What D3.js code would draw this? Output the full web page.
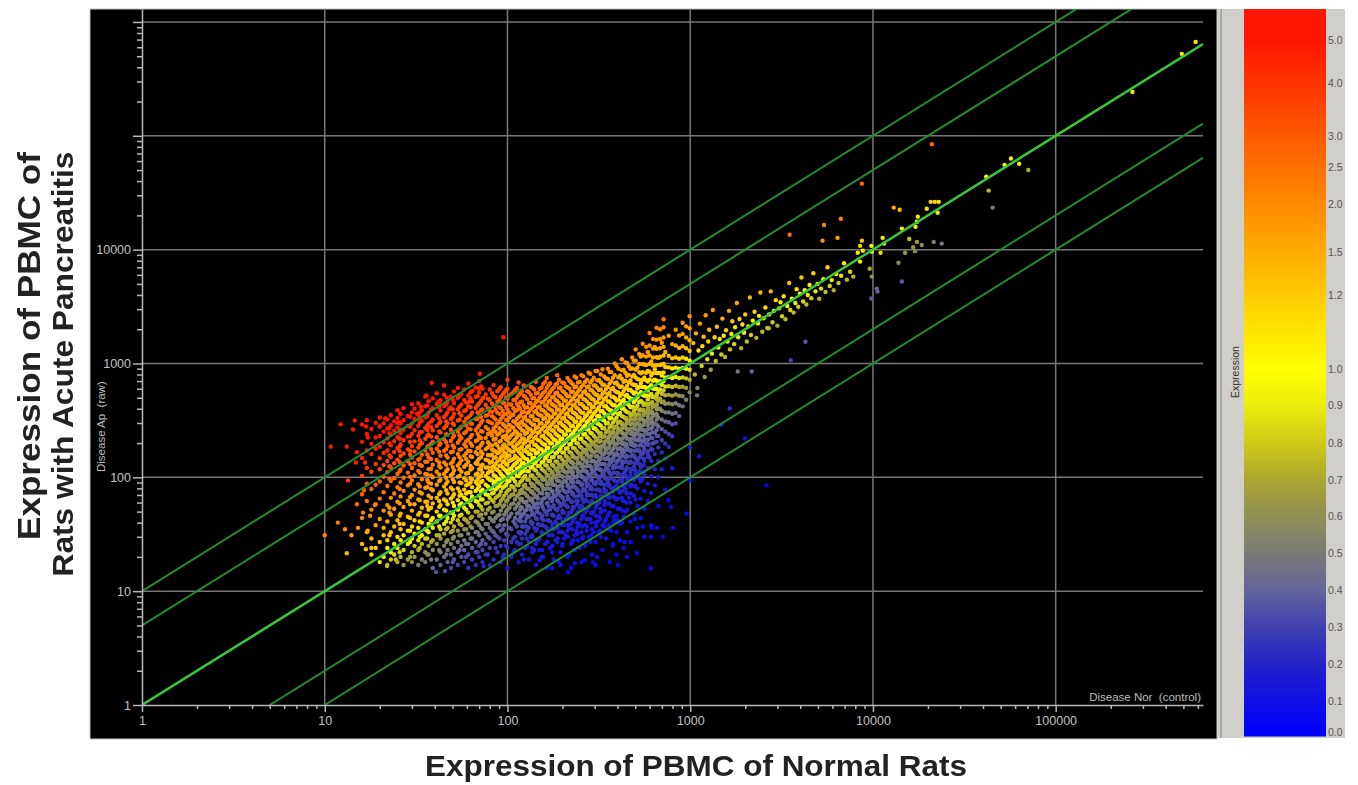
<!DOCTYPE html>
<html>
<head>
<meta charset="utf-8">
<title>Expression of PBMC</title>
<script src="https://cdnjs.cloudflare.com/ajax/libs/d3/7.8.5/d3.min.js"></script>
<style>
  html, body { margin: 0; padding: 0; background: #fff; }
  svg { display: block; filter: blur(0.7px); }
  text { font-family: "Liberation Sans", Arial, sans-serif; }
</style>
</head>
<body>
<svg id="container" width="1358" height="785"></svg>
<script>
const xLabels = [1, 10, 100, 1000, 10000, 100000]
const yLabels = [1, 10, 100, 1000, 10000]
const xGrid = [10, 100, 1000, 10000, 100000]
const yGrid = [10, 100, 1000, 10000, 100000, 1000000]
const foldLines = [10, 5, 1, 0.2, 0.1]

const legendTicks = [0, 0.1, 0.2, 0.3, 0.4, 0.5, 0.6, 0.7, 0.8, 0.9, 1, 1.2, 1.5, 2, 2.5, 3, 4, 5]
const legendColors = ['#0000ff', '#1010e6', '#2222c8', '#4040b0', '#64649c', '#7a7a76', '#8f8f55', '#aaa530', '#d0c818', '#ecec0c', '#ffff00', '#ffcb00', '#ffac00', '#ff8a00', '#ff7000', '#ff5a00', '#ff3400', '#ff1600']

// main cloud, read column by column: one normal-rat value, many disease values
const cloudX = [16, 17, 18, 19, 20, 21, 22, 23, 24, 25, 26, 27, 28.5, 30, 31, 32.5, 34, 35.5, 37, 39, 41, 43, 45, 47, 49, 51, 53.5, 56, 58, 61, 64, 67, 70, 73, 76, 80, 84, 88, 92, 96, 100, 105, 110, 115, 120, 125, 131, 137, 143, 150, 157, 164, 171, 179, 187, 195, 204, 213, 223, 233, 243, 254, 266, 278, 290, 303, 317, 331, 346, 362, 378, 395, 413, 432, 451, 471, 492, 514, 537, 561, 586, 612, 640, 669, 699, 730, 763, 797, 833, 870, 909, 950, 993]
const cloudY = [
  [26, 44, 71, 103, 148, 205, 292],
  [33, 62, 88, 121, 172, 240, 318],
  [21, 29, 52, 79, 112, 160, 196, 266],
  [24, 38, 58, 86, 131, 178, 224, 301],
  [18, 27, 43, 65, 92, 118, 147, 186, 231, 279, 335],
  [20, 31, 36, 51, 74, 101, 128, 164, 203, 252, 298],
  [17, 24, 28, 41, 57, 84, 111, 139, 172, 219, 268, 322],
  [19, 22, 33, 47, 66, 93, 122, 151, 191, 238, 287, 351],
  [21, 26, 37, 53, 72, 98, 133, 167, 208, 256, 310],
  [18, 24, 30, 42, 61, 82, 107, 143, 181, 226, 274, 332, 389],
  [20, 28, 35, 48, 68, 90, 117, 154, 194, 245, 299, 362],
  [17, 23, 31, 39, 55, 76, 99, 127, 162, 213, 262, 318, 405],
  [19, 26, 34, 45, 62, 85, 110, 138, 176, 228, 283, 346],
  [18, 22, 29, 37, 51, 70, 94, 121, 149, 188, 241, 297, 372, 438],
  [20, 25, 32, 42, 58, 78, 104, 133, 169, 207, 259, 325, 401],
  [17, 23, 28, 36, 47, 64, 87, 114, 143, 183, 232, 284, 354, 447],
  [19, 26, 31, 40, 54, 72, 96, 126, 158, 199, 251, 312, 388],
  [18, 22, 29, 35, 46, 61, 81, 107, 137, 172, 218, 271, 336, 421, 512],
  [21, 25, 33, 39, 52, 69, 90, 118, 150, 190, 238, 296, 369, 466],
  [16, 23, 28, 36, 44, 59, 77, 100, 129, 164, 206, 259, 321, 405, 494],
  [19, 26, 31, 41, 50, 66, 86, 112, 142, 178, 226, 283, 352, 441, 548],
  [17, 22, 29, 35, 46, 57, 74, 95, 122, 155, 197, 248, 308, 387, 476],
  [20, 25, 32, 39, 52, 64, 83, 107, 135, 171, 216, 271, 339, 423, 531, 640],
  [18, 23, 28, 36, 44, 58, 72, 92, 118, 149, 188, 237, 298, 372, 462],
  [16, 21, 26, 33, 40, 49, 65, 81, 104, 132, 166, 209, 262, 326, 410, 512],
  [19, 24, 30, 37, 46, 56, 71, 91, 115, 146, 183, 231, 289, 361, 449, 566],
  [17, 22, 27, 34, 42, 52, 63, 80, 101, 127, 160, 201, 252, 316, 397, 497, 610],
  [20, 25, 31, 38, 47, 59, 70, 89, 112, 141, 177, 222, 279, 348, 437, 541],
  [18, 23, 28, 35, 43, 54, 66, 78, 98, 124, 155, 194, 244, 306, 383, 478, 590],
  [16, 21, 26, 32, 40, 49, 61, 74, 87, 109, 137, 171, 214, 268, 336, 421, 525, 668],
  [19, 24, 29, 36, 45, 55, 68, 82, 96, 120, 151, 189, 236, 295, 370, 463, 572],
  [17, 22, 27, 33, 41, 50, 62, 76, 91, 106, 133, 166, 208, 260, 325, 407, 509, 615],
  [20, 25, 31, 38, 46, 57, 69, 84, 100, 118, 146, 183, 229, 286, 358, 448, 556, 700],
  [18, 23, 28, 35, 43, 52, 64, 78, 93, 110, 129, 161, 201, 252, 315, 394, 492, 602],
  [21, 26, 32, 39, 48, 59, 71, 86, 103, 122, 143, 177, 222, 277, 347, 433, 535],
  [17, 24, 29, 36, 44, 54, 66, 79, 95, 113, 134, 156, 195, 244, 305, 382, 477, 590],
  [19, 27, 33, 41, 50, 61, 73, 88, 105, 125, 148, 172, 215, 269, 336, 420, 518, 646],
  [22, 30, 37, 46, 56, 68, 81, 97, 116, 138, 163, 190, 237, 296, 370, 462, 571],
  [18, 25, 34, 42, 51, 62, 75, 90, 107, 127, 150, 176, 209, 261, 326, 407, 508, 620],
  [21, 28, 38, 47, 57, 69, 83, 99, 118, 140, 165, 194, 230, 287, 359, 448, 560],
  [16, 24, 31, 43, 52, 63, 76, 91, 109, 129, 152, 179, 212, 253, 316, 394, 493, 598, 720],
  [20, 27, 35, 48, 58, 70, 84, 100, 120, 142, 168, 197, 234, 279, 348, 434, 541],
  [23, 30, 39, 44, 53, 64, 77, 92, 110, 131, 154, 182, 215, 256, 306, 383, 478, 585],
  [18, 26, 33, 42, 49, 59, 71, 85, 102, 121, 143, 169, 199, 236, 282, 337, 421, 526, 680],
  [21, 29, 37, 46, 54, 65, 78, 94, 112, 133, 157, 186, 219, 260, 310, 371, 463, 570],
  [24, 32, 41, 51, 60, 72, 86, 103, 123, 146, 173, 204, 241, 286, 341, 408, 509, 630],
  [19, 27, 36, 45, 56, 66, 79, 95, 113, 135, 160, 189, 223, 264, 315, 376, 449, 560],
  [22, 30, 40, 49, 61, 73, 87, 104, 124, 148, 175, 207, 245, 291, 346, 414, 494, 612],
  [17, 26, 34, 44, 54, 67, 80, 96, 115, 137, 162, 192, 227, 269, 320, 382, 456, 545, 690],
  [23, 29, 38, 48, 59, 73, 88, 105, 126, 150, 178, 211, 250, 296, 352, 420, 501, 600],
  [20, 32, 42, 53, 65, 79, 95, 115, 138, 164, 195, 232, 275, 326, 387, 462, 552, 660],
  [16, 27, 36, 47, 59, 72, 87, 106, 127, 152, 181, 215, 254, 302, 359, 428, 510, 610, 745],
  [24, 31, 41, 52, 65, 79, 96, 116, 139, 167, 199, 236, 280, 332, 395, 470, 561, 672],
  [19, 35, 46, 57, 70, 86, 104, 126, 151, 181, 216, 257, 305, 362, 430, 512, 612],
  [27, 39, 51, 63, 77, 94, 114, 137, 165, 197, 235, 279, 331, 393, 468, 558, 668, 790],
  [17, 22, 33, 44, 56, 69, 85, 103, 125, 150, 180, 215, 256, 304, 361, 430, 513, 615],
  [29, 38, 49, 62, 76, 93, 113, 137, 165, 198, 236, 281, 334, 396, 470, 560, 672],
  [20, 34, 43, 55, 68, 84, 102, 124, 150, 180, 216, 258, 307, 365, 433, 515, 615, 745],
  [16, 26, 39, 49, 61, 75, 92, 112, 136, 164, 197, 236, 281, 334, 397, 472, 563, 680],
  [23, 31, 44, 55, 68, 83, 101, 123, 149, 180, 216, 258, 308, 366, 435, 517, 618, 770],
  [28, 37, 50, 62, 76, 92, 112, 136, 165, 198, 237, 283, 337, 401, 476, 566, 680],
  [18, 33, 43, 56, 69, 85, 103, 125, 151, 182, 218, 261, 311, 370, 440, 523, 625, 790],
  [25, 38, 49, 63, 77, 94, 114, 138, 167, 200, 240, 286, 341, 405, 481, 572, 690],
  [30, 43, 55, 70, 86, 104, 126, 152, 183, 220, 263, 314, 373, 444, 528, 630, 830],
  [21, 35, 48, 62, 78, 95, 116, 140, 169, 203, 243, 290, 345, 410, 487, 580, 710],
  [17, 27, 40, 54, 70, 87, 106, 128, 155, 186, 223, 267, 318, 378, 449, 534, 640, 860],
  [33, 45, 60, 78, 97, 118, 142, 171, 205, 245, 292, 348, 414, 492, 585, 715],
  [23, 38, 51, 68, 87, 108, 131, 158, 189, 226, 270, 322, 383, 455, 541, 650, 890],
  [29, 43, 58, 76, 97, 120, 145, 174, 208, 249, 297, 354, 421, 500, 596, 740],
  [18, 35, 49, 66, 86, 108, 133, 161, 193, 231, 275, 328, 390, 463, 551, 665, 840],
  [26, 40, 56, 75, 97, 120, 147, 177, 212, 254, 303, 361, 429, 510, 610, 750],
  [21, 33, 46, 64, 85, 109, 134, 163, 196, 235, 280, 334, 397, 472, 562, 680, 950],
  [28, 39, 53, 73, 96, 122, 149, 180, 216, 258, 308, 367, 436, 519, 620, 780],
  [24, 45, 62, 84, 108, 136, 166, 200, 239, 285, 339, 403, 480, 572, 690, 880],
  [33, 52, 72, 96, 122, 151, 184, 221, 264, 314, 374, 445, 530, 635, 780, 1010],
  [27, 41, 60, 83, 109, 138, 170, 205, 245, 292, 347, 413, 492, 588, 710, 900],
  [48, 69, 95, 124, 155, 189, 227, 271, 322, 383, 456, 544, 650, 795, 1060],
  [36, 56, 80, 108, 140, 174, 211, 252, 300, 357, 425, 506, 605, 730, 920],
  [44, 65, 92, 123, 157, 193, 233, 278, 331, 394, 469, 559, 670, 820, 1150],
  [30, 53, 76, 106, 140, 177, 216, 259, 309, 368, 437, 520, 622, 755, 980],
  [62, 88, 121, 158, 198, 241, 288, 343, 408, 486, 578, 695, 860, 1260],
  [38, 73, 102, 139, 179, 222, 268, 320, 381, 453, 540, 645, 785, 1040],
  [85, 118, 160, 202, 248, 298, 355, 422, 503, 600, 720, 890, 1400],
  [56, 100, 139, 183, 230, 280, 334, 397, 472, 563, 675, 825, 1120],
  [118, 165, 213, 266, 322, 384, 456, 543, 650, 785, 980, 1520],
  [78, 146, 198, 252, 310, 372, 442, 526, 628, 755, 930, 1260],
  [185, 240, 305, 372, 446, 530, 632, 760, 925, 1170, 1750],
  [120, 230, 292, 362, 438, 522, 622, 745, 905, 1110, 1480],
  [298, 368, 448, 535, 637, 762, 920, 1130, 1440, 1980],
  [345, 430, 520, 622, 745, 900, 1100, 1370, 1760],
  [420, 515, 625, 755, 915, 1130, 1420, 1820, 2280],
  [480, 610, 740, 900, 1100, 1360, 1690, 2120],
  [560, 720, 880, 1060, 1290, 1600, 2040, 2600]
]

// second reading of the dense core, in the gaps the first pass left
const coreX = [22.6, 25.7, 29.3, 33.1, 36.4, 38.2, 42.3, 46.2, 50.2, 54.7, 59.4, 62.8, 68.6, 71.7, 78.2, 82.3, 86.1, 90.4, 94.2, 98.3, 102.6, 107.7, 112.6, 117.5, 122.7, 128.2, 134.1, 140.2, 146.6, 153.6, 160.7, 167.6, 175.2, 183.1, 191.3, 199.6, 208.6, 218.2, 228.1, 238.2, 248.6, 260.2, 272.1, 284.2, 296.6, 310.2, 324.1, 338.6, 354.2, 370.1, 386.6, 404.2, 422.6, 441.7, 461.2, 481.6, 503.1, 525.7, 549.2, 573.6, 599.2, 626.1, 654.7, 684.2, 714.6]
const coreY = [
  [31, 49, 54, 97, 125, 156, 198, 244, 271],
  [22, 39, 46, 59, 79, 113, 136, 170, 187, 218, 262, 305],
  [20, 27, 34, 44, 58, 67, 88, 101, 131, 158, 171, 205, 229, 278, 340],
  [24, 30, 41, 49, 63, 74, 83, 110, 129, 146, 192, 212, 248, 305, 335, 372],
  [21, 29, 34, 46, 56, 61, 82, 95, 106, 137, 159, 185, 231, 261, 284, 345, 428],
  [19, 27, 38, 42, 54, 66, 79, 88, 104, 119, 145, 177, 196, 228, 276, 310, 392],
  [23, 31, 37, 46, 55, 62, 71, 93, 106, 126, 135, 168, 192, 211, 253, 298, 331, 412, 455],
  [21, 27, 35, 41, 51, 62, 77, 88, 99, 113, 129, 156, 177, 203, 239, 282, 309, 355, 436],
  [18, 29, 34, 43, 49, 60, 68, 78, 96, 108, 123, 137, 168, 191, 224, 247, 298, 338, 395, 480],
  [23, 31, 39, 46, 57, 69, 75, 90, 103, 118, 133, 150, 175, 213, 233, 269, 321, 366, 418, 520],
  [20, 26, 35, 42, 52, 64, 72, 85, 94, 108, 129, 145, 163, 186, 207, 252, 286, 327, 390, 455],
  [29, 37, 44, 57, 63, 74, 90, 98, 117, 126, 153, 170, 199, 226, 264, 297, 352, 412, 496, 560],
  [22, 33, 40, 50, 61, 79, 87, 95, 108, 131, 139, 160, 181, 213, 242, 273, 325, 372, 430, 515],
  [26, 36, 47, 55, 64, 75, 91, 103, 117, 126, 150, 169, 192, 221, 255, 302, 338, 389, 468, 630],
  [21, 30, 39, 52, 60, 70, 83, 98, 109, 122, 141, 157, 183, 203, 240, 265, 311, 354, 404, 490],
  [34, 42, 49, 63, 72, 80, 94, 113, 123, 137, 158, 176, 190, 233, 252, 298, 345, 376, 446, 548],
  [24, 31, 44, 56, 66, 78, 92, 102, 119, 131, 150, 169, 197, 218, 251, 280, 322, 391, 428, 505],
  [29, 38, 47, 58, 70, 84, 96, 112, 126, 143, 165, 178, 206, 243, 270, 308, 361, 412, 478, 600],
  [20, 35, 43, 55, 65, 81, 94, 103, 122, 136, 154, 175, 189, 226, 256, 294, 340, 382, 451, 535],
  [25, 32, 50, 62, 73, 86, 97, 114, 131, 149, 161, 184, 216, 233, 275, 319, 359, 418, 503, 585],
  [36, 45, 54, 67, 78, 93, 108, 118, 139, 155, 173, 198, 223, 259, 288, 335, 372, 438, 525],
  [22, 29, 41, 59, 71, 82, 97, 112, 127, 145, 168, 186, 207, 242, 273, 311, 355, 405, 478, 560],
  [27, 37, 48, 56, 68, 86, 103, 119, 135, 149, 176, 194, 226, 248, 293, 326, 388, 442, 500, 610],
  [32, 44, 52, 65, 76, 91, 108, 125, 143, 162, 180, 208, 237, 271, 302, 349, 401, 456, 545],
  [19, 37, 48, 61, 73, 84, 99, 114, 133, 150, 171, 198, 219, 256, 290, 332, 376, 430, 520, 640],
  [25, 34, 46, 56, 69, 80, 95, 113, 128, 144, 166, 185, 211, 247, 274, 316, 368, 413, 486, 570],
  [30, 41, 52, 63, 75, 89, 104, 122, 137, 159, 176, 204, 231, 263, 301, 344, 396, 448, 530, 625],
  [23, 36, 47, 58, 71, 84, 98, 117, 133, 148, 172, 193, 220, 252, 290, 322, 376, 428, 495, 590],
  [28, 39, 54, 65, 78, 92, 108, 126, 144, 165, 184, 213, 245, 276, 318, 362, 411, 470, 551],
  [20, 33, 44, 60, 73, 86, 101, 119, 135, 156, 176, 202, 229, 265, 299, 347, 391, 455, 526, 615],
  [26, 37, 50, 66, 79, 95, 112, 128, 147, 170, 193, 220, 251, 283, 330, 374, 428, 488, 570, 690],
  [31, 42, 56, 71, 87, 104, 120, 139, 161, 182, 208, 240, 270, 309, 351, 405, 461, 535, 640],
  [22, 36, 47, 62, 76, 92, 109, 129, 150, 170, 198, 225, 259, 292, 338, 386, 439, 505, 590],
  [28, 41, 53, 68, 85, 100, 119, 138, 162, 186, 212, 243, 279, 318, 364, 420, 478, 548, 650],
  [18, 33, 46, 60, 75, 93, 111, 130, 151, 173, 201, 229, 263, 302, 344, 394, 452, 520, 610, 720],
  [25, 38, 51, 66, 83, 102, 120, 143, 165, 191, 218, 252, 288, 329, 378, 432, 495, 575, 680],
  [31, 43, 57, 74, 92, 110, 132, 154, 178, 206, 238, 271, 312, 358, 410, 470, 540, 630],
  [21, 36, 49, 64, 81, 100, 121, 143, 167, 194, 224, 259, 296, 340, 391, 448, 515, 600, 705],
  [28, 41, 55, 72, 90, 111, 132, 156, 182, 212, 244, 282, 325, 372, 428, 490, 565, 655],
  [34, 47, 62, 80, 100, 122, 146, 171, 200, 232, 268, 308, 355, 408, 468, 540, 625, 750],
  [24, 39, 54, 71, 90, 111, 134, 159, 187, 218, 252, 291, 335, 385, 442, 510, 590, 690],
  [30, 45, 61, 79, 100, 123, 148, 175, 205, 238, 276, 320, 368, 424, 487, 560, 650, 770],
  [37, 52, 69, 89, 112, 136, 163, 193, 226, 264, 305, 352, 405, 465, 535, 620, 720],
  [27, 43, 60, 79, 101, 125, 151, 179, 211, 246, 286, 330, 380, 438, 505, 585, 680, 810],
  [33, 50, 68, 89, 113, 139, 167, 198, 232, 270, 313, 361, 416, 480, 555, 640, 750],
  [41, 58, 78, 101, 126, 154, 184, 218, 255, 297, 344, 396, 457, 528, 610, 710, 860],
  [30, 49, 69, 92, 117, 145, 175, 208, 244, 285, 330, 381, 440, 508, 590, 685, 800],
  [37, 57, 79, 104, 131, 161, 194, 230, 270, 315, 364, 420, 485, 560, 650, 770],
  [46, 67, 91, 118, 148, 180, 216, 256, 300, 348, 402, 464, 536, 622, 730, 900],
  [34, 56, 80, 106, 136, 168, 204, 243, 285, 333, 385, 444, 512, 595, 700, 840],
  [42, 66, 93, 122, 155, 190, 229, 272, 320, 372, 430, 497, 575, 670, 790, 1000],
  [53, 79, 108, 141, 177, 216, 259, 306, 358, 416, 481, 556, 645, 755, 900],
  [40, 66, 96, 129, 165, 204, 247, 293, 345, 402, 466, 540, 628, 735, 870, 1090],
  [50, 80, 113, 149, 188, 230, 277, 328, 385, 448, 520, 604, 705, 830, 1020],
  [66, 98, 134, 173, 216, 262, 313, 370, 433, 504, 585, 680, 795, 945],
  [85, 118, 157, 200, 247, 298, 355, 417, 487, 566, 657, 768, 905, 1130],
  [64, 106, 146, 190, 238, 290, 347, 410, 480, 558, 648, 755, 885, 1060, 1330],
  [132, 172, 220, 272, 328, 390, 458, 535, 622, 722, 840, 990, 1210],
  [96, 162, 208, 262, 320, 384, 454, 532, 620, 720, 840, 985, 1180, 1490],
  [198, 250, 310, 374, 445, 524, 612, 712, 830, 970, 1150, 1400],
  [150, 240, 300, 368, 442, 525, 618, 722, 845, 990, 1175, 1440, 1850],
  [295, 360, 432, 512, 602, 705, 822, 960, 1130, 1350, 1640],
  [350, 425, 508, 600, 705, 825, 965, 1135, 1345, 1620, 2060],
  [400, 490, 590, 700, 825, 970, 1145, 1360, 1640, 2000],
  [465, 580, 700, 835, 990, 1175, 1400, 1690, 2080, 2450]
]

// third reading, the blue lobe under the diagonal is solid in the picture
const blueX = [118.6, 127.3, 136.4, 145.2, 155.1, 165.7, 176.3, 188.2, 200.4, 214.1, 226.6, 241.3, 256.8, 271.4, 287.2, 305.6, 321.7, 340.4, 359.2, 380.7, 401.3, 424.6, 447.2, 473.8, 498.6, 528.4, 556.2, 588.3, 620.4, 656.1]
const blueY = [
  [26, 33, 41, 47, 55, 63, 73],
  [29, 37, 44, 52, 61, 69, 80],
  [24, 31, 39, 47, 54, 65, 75, 84],
  [28, 35, 43, 50, 59, 68, 78, 91],
  [23, 32, 38, 46, 56, 64, 72, 83, 96],
  [27, 35, 42, 51, 60, 69, 80, 90, 104],
  [25, 31, 39, 47, 55, 66, 75, 86, 98, 111],
  [29, 36, 44, 53, 62, 72, 82, 94, 107, 120],
  [26, 33, 41, 49, 58, 67, 78, 90, 101, 116, 129],
  [30, 38, 46, 55, 64, 75, 86, 98, 112, 125, 141],
  [27, 35, 43, 52, 61, 71, 83, 95, 107, 121, 136, 152],
  [32, 40, 49, 58, 68, 79, 91, 103, 118, 132, 148],
  [29, 37, 46, 55, 65, 76, 87, 100, 114, 129, 145, 164],
  [34, 43, 52, 62, 73, 84, 97, 110, 125, 141, 158, 176],
  [31, 40, 49, 59, 70, 82, 94, 107, 122, 138, 155, 173, 193],
  [37, 46, 56, 67, 78, 91, 104, 119, 135, 152, 170, 190, 210],
  [34, 43, 53, 64, 76, 88, 102, 116, 131, 148, 167, 186, 208, 230],
  [41, 51, 62, 74, 86, 99, 114, 130, 146, 164, 184, 205, 228],
  [38, 48, 59, 71, 84, 97, 112, 128, 144, 162, 182, 203, 226, 252],
  [45, 56, 68, 81, 95, 110, 126, 142, 160, 180, 201, 224, 248, 276],
  [42, 53, 65, 78, 92, 107, 123, 140, 158, 178, 199, 222, 246, 272, 302],
  [51, 63, 76, 90, 105, 121, 138, 156, 176, 197, 220, 245, 270, 298],
  [60, 74, 88, 103, 119, 137, 155, 175, 196, 219, 243, 269, 297, 330],
  [72, 86, 101, 118, 135, 153, 173, 194, 217, 241, 267, 295, 326, 360],
  [84, 99, 115, 133, 151, 171, 192, 215, 239, 265, 293, 324, 358, 396],
  [97, 113, 130, 149, 169, 190, 213, 237, 263, 291, 322, 356, 392],
  [112, 128, 146, 166, 187, 210, 234, 260, 288, 318, 352, 390, 432],
  [150, 170, 192, 215, 240, 266, 295, 326, 360, 398, 440, 488],
  [175, 198, 222, 248, 276, 306, 338, 374, 414, 458, 506],
  [205, 232, 260, 290, 322, 358, 396, 438, 484, 536]
]

// stragglers and the thin stem up the diagonal, read point by point as [normal, disease]
const sparsePairs = [
  [10, 31], [10.8, 186], [11.8, 40], [12.2, 292], [12.9, 35], [13.2, 186], [13.2, 21.5], [13.4, 94], [14, 31], [14.3, 263], [14.6, 316], [14.8, 135], [15, 166], [15, 58], [15.2, 36],
  [16.2, 49], [16.4, 77], [16.6, 135], [16.8, 280], [16.8, 23.4], [17.2, 224], [17.2, 34], [17.7, 46], [18, 24], [18.8, 57], [20, 280], [21.4, 331], [21.9, 16.6], [24.5, 19],
  [25, 302], [25.8, 363], [32, 363], [33.6, 417], [36, 525], [38.5, 676], [40.6, 14.7], [42, 462], [45.5, 15], [46.6, 501], [48, 398], [62, 462], [64.6, 575], [69.8, 603], [70.6, 813], [74, 501], [74, 16.6], [95, 1700],
  [150, 18.7], [175, 15.9], [214, 14.7], [234, 17.6], [265, 18.7], [293, 18], [309, 20], [378, 25], [402, 17], [438, 27], [450, 20], [498, 43], [510, 21.6], [550, 37], [610, 30], [610, 15.9], [616, 36], [656, 36], [708, 30], [783, 55], [804, 36], [955, 48],
  [760, 63], [1000, 94], [1000, 183], [1090, 525], [1120, 153], [1480, 290], [1645, 403], [1820, 851], [1990, 220], [2170, 851], [2620, 85], [2690, 2040], [3550, 1070], [4270, 1550],
  [1040, 1510], [1060, 800], [1075, 1840], [1095, 610], [1110, 1300], [1130, 2240], [1155, 950], [1165, 1420], [1185, 1720], [1200, 760], [1215, 2650], [1240, 1090], [1255, 1560], [1270, 1980], [1295, 880], [1315, 1220], [1330, 2950], [1360, 1700], [1380, 1050], [1400, 2100], [1425, 1380], [1450, 1640], [1480, 1200], [1500, 2480], [1525, 1750], [1550, 1140], [1570, 1960], [1600, 1560], [1630, 2900], [1650, 1330], [1680, 1820], [1700, 2350], [1740, 1480], [1760, 2080], [1800, 3400], [1830, 1700], [1860, 2460], [1900, 1360], [1930, 2200], [1970, 1860], [2000, 2700], [2040, 1560], [2080, 2120], [2120, 3800], [2150, 1780], [2200, 2380], [2250, 2850], [2300, 1680], [2350, 2250], [2380, 2620], [2420, 4200], [2480, 1900], [2520, 2500], [2580, 3100], [2640, 2050], [2700, 2700], [2760, 4300], [2820, 2300], [2870, 2900], [2940, 3600], [3000, 2150], [3060, 3050], [3120, 3450], [3180, 2600], [3250, 3900], [3320, 2450], [3400, 3200], [3480, 5100], [3530, 2950], [3600, 3700], [3680, 2800], [3760, 3400], [3820, 4500], [3900, 3150], [3980, 4100], [4060, 5700], [4150, 3500], [4230, 4400], [4320, 3300], [4400, 4000], [4500, 4900], [4600, 3750], [4720, 6200], [4850, 4300], [4970, 5000], [5080, 3700], [5200, 4550], [5350, 5500], [5500, 4250], [5640, 7000], [5800, 4800], [5950, 5400], [6100, 4400], [6300, 6100], [6480, 5100], [6700, 5900], [6950, 7600], [7200, 5450], [7500, 6400], [7800, 5800],
  [3500, 13500], [5300, 12000], [5400, 16500], [6400, 12700], [6670, 18700], [8260, 9400], [8500, 10800], [8500, 7850], [8700, 38000], [8700, 12000], [8800, 9800], [9600, 6800], [9800, 10800], [9800, 3720], [9850, 9600], [9850, 5800], [10500, 4550], [10600, 4280], [11000, 9400], [11300, 12700], [11500, 11300],
  [13000, 23400], [13800, 7680], [14000, 22400], [14400, 15300], [14400, 5250], [15000, 9400], [15800, 12400], [16600, 10500], [17000, 9700], [17100, 15900], [17400, 17600], [17400, 11700], [17600, 19500], [18500, 11000], [19700, 22900], [20700, 26300], [21000, 84500], [21500, 11700], [21800, 26300], [22600, 21100], [22900, 26300], [23800, 11300],
  [41700, 43700], [43000, 33000], [45200, 23400], [52500, 55600], [56900, 63100], [63100, 56900], [70800, 50100], [263000, 243000], [490000, 525000], [583000, 668000]
]

const readColumns = (xs, ys) => xs.flatMap((x, i) => ys[i].map((y) => ({ x, y })))
const sparsePoints = sparsePairs.map(([x, y]) => ({ x, y }))
const points = [...sparsePoints, ...readColumns(cloudX, cloudY), ...readColumns(coreX, coreY), ...readColumns(blueX, blueY)]

const svg = d3.select('#container')

const xScale = d3.scaleLog().domain([1, 640000]).range([142, 1203])
const yScale = d3.scaleLog().domain([1, 1300000]).range([705, 9])

// legend spacing is uneven, so it gets its own scale on the ticks
const legendY = d3.scaleLinear()
  .domain(legendTicks)
  .range([732, 701, 664, 627, 590, 553, 516, 480, 443, 405, 369, 295, 252, 204, 167, 136, 83, 40])
const colorScale = d3.scaleLinear().domain(legendTicks).range(legendColors).clamp(true)

// dots above the diagonal read lighter than the legend says
const dotColor = (d) => {
  const ratio = d.y / d.x
  return colorScale(ratio > 1 ? Math.pow(ratio, 0.7) : ratio)
}

// page panels
svg.append('rect')
  .attr('x', 90).attr('y', 9).attr('width', 1127).attr('height', 730)
  .style('fill', '#000')
  .style('stroke', '#c4c4c4')
  .style('stroke-width', 1)
svg.append('rect')
  .attr('x', 1217).attr('y', 9).attr('width', 128).attr('height', 729)
  .style('fill', '#d1cfc9')
svg.append('rect')
  .attr('x', 1220).attr('y', 9).attr('width', 2).attr('height', 729)
  .style('fill', '#a9a7a3')

svg.append('defs').append('clipPath').attr('id', 'plotClip')
  .append('rect')
  .attr('x', 142).attr('y', 9).attr('width', 1061).attr('height', 696)

// grid
const grid = svg.append('g').style('stroke', '#777').style('stroke-width', 1.5)
grid.selectAll('.vgrid')
  .data(xGrid)
  .enter()
  .append('line')
  .attr('class', 'vgrid')
  .attr('x1', (d) => xScale(d))
  .attr('x2', (d) => xScale(d))
  .attr('y1', yScale.range()[0])
  .attr('y2', yScale.range()[1])
grid.selectAll('.hgrid')
  .data(yGrid)
  .enter()
  .append('line')
  .attr('class', 'hgrid')
  .attr('x1', xScale.range()[0])
  .attr('x2', xScale.range()[1])
  .attr('y1', (d) => yScale(d))
  .attr('y2', (d) => yScale(d))

// points
svg.append('g')
  .selectAll('circle')
  .data(points)
  .enter()
  .append('circle')
  .attr('cx', (d) => xScale(d.x))
  .attr('cy', (d) => yScale(d.y))
  .attr('r', 2.2)
  .style('fill', dotColor)

// fold change lines
svg.append('g')
  .attr('clip-path', 'url(#plotClip)')
  .selectAll('line')
  .data(foldLines)
  .enter()
  .append('line')
  .attr('x1', (d) => xScale(d < 1 ? 1 / d : 1))
  .attr('y1', (d) => yScale(d < 1 ? 1 : d))
  .attr('x2', xScale(640000))
  .attr('y2', (d) => yScale(640000 * d))
  .style('stroke', (d) => (d === 1 ? '#38c838' : '#1f8f2f'))
  .style('stroke-width', (d) => (d === 1 ? 2.4 : 2))

// axes
const tagMajor = (g, labels) => {
  g.selectAll('.tick text').text((d) => (labels.includes(d) ? d : ''))
  g.selectAll('.tick text').style('fill', '#c2c2c2').style('font-size', '12.5px')
  g.selectAll('line, path').style('stroke', '#b8b8b8').style('stroke-width', 1.5)
}

const xAxis = d3.axisBottom(xScale).tickValues(xScale.ticks()).tickSize(4).tickSizeOuter(0)
const xAxisG = svg.append('g').attr('transform', 'translate(0,705)').call(xAxis)
tagMajor(xAxisG, xLabels)
xAxisG.selectAll('.tick text').attr('y', 11)
xAxisG.selectAll('.tick line').attr('y2', (d) => (xLabels.includes(d) ? 7 : 4))

const yAxis = d3.axisLeft(yScale).tickValues(yScale.ticks()).tickSize(5).tickSizeOuter(0)
const yAxisG = svg.append('g').attr('transform', 'translate(142,0)').call(yAxis)
tagMajor(yAxisG, yLabels)
yAxisG.selectAll('.tick text').attr('x', -11)
yAxisG.selectAll('.tick line').attr('x2', (d) => (yGrid.includes(d) || d === 1 ? -9 : -5))

svg.append('text')
  .attr('x', 1201).attr('y', 701)
  .attr('text-anchor', 'end')
  .style('fill', '#bdbdbd')
  .style('font-size', '11.5px')
  .attr('xml:space', 'preserve')
  .text('Disease Nor  (control)')
svg.append('text')
  .attr('transform', 'translate(105,472) rotate(-90)')
  .style('fill', '#bdbdbd')
  .style('font-size', '11.5px')
  .attr('xml:space', 'preserve')
  .text('Disease Ap  (raw)')

// legend bar, one row per pixel through the same colour scale
svg.append('g')
  .selectAll('rect')
  .data(d3.range(9, 736))
  .enter()
  .append('rect')
  .attr('x', 1244)
  .attr('y', (d) => d)
  .attr('width', 82)
  .attr('height', 1.5)
  .style('fill', (d) => colorScale(legendY.invert(d)))

svg.append('g')
  .selectAll('text')
  .data(legendTicks)
  .enter()
  .append('text')
  .attr('x', 1328)
  .attr('y', (d) => legendY(d) + 3.5)
  .style('fill', '#555')
  .style('font-size', '10.5px')
  .text((d) => d.toFixed(1))

svg.append('text')
  .attr('transform', 'translate(1239,398) rotate(-90)')
  .style('fill', '#333')
  .style('font-size', '10.5px')
  .text('Expression')

// titles
svg.append('text')
  .attr('x', 696).attr('y', 776)
  .attr('text-anchor', 'middle')
  .attr('textLength', 542)
  .attr('lengthAdjust', 'spacingAndGlyphs')
  .style('fill', '#222')
  .style('font-size', '30px')
  .style('font-weight', 'bold')
  .text('Expression of PBMC of Normal Rats')
svg.append('text')
  .attr('transform', 'translate(40,346) rotate(-90)')
  .attr('text-anchor', 'middle')
  .attr('textLength', 388)
  .attr('lengthAdjust', 'spacingAndGlyphs')
  .style('fill', '#222')
  .style('font-size', '31px')
  .style('font-weight', 'bold')
  .text('Expression of PBMC of')
svg.append('text')
  .attr('transform', 'translate(73,364) rotate(-90)')
  .attr('text-anchor', 'middle')
  .attr('textLength', 425)
  .attr('lengthAdjust', 'spacingAndGlyphs')
  .style('fill', '#222')
  .style('font-size', '30px')
  .style('font-weight', 'bold')
  .text('Rats with Acute Pancreatitis')
</script>
</body>
</html>
